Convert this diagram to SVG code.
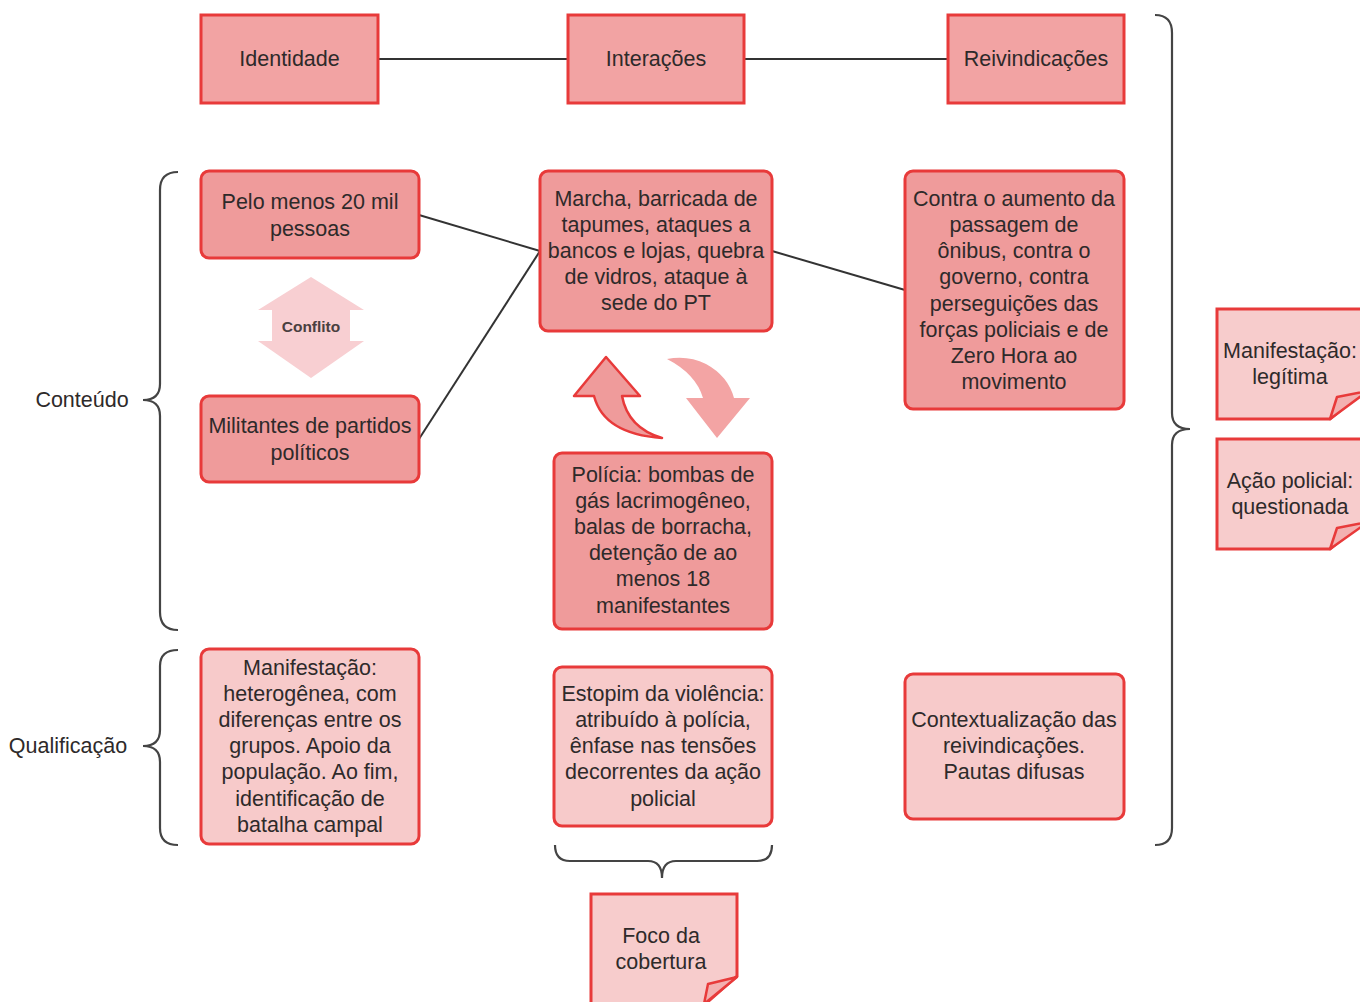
<svg xmlns="http://www.w3.org/2000/svg" width="1360" height="1002" viewBox="0 0 1360 1002">
<defs>
<style>
text{font-family:"Liberation Sans",Arial,sans-serif;font-size:21.5px;fill:#2e2a2a;text-anchor:middle}
.hdr{fill:#f2a3a3;stroke:#e83a3a;stroke-width:3}
.dk{fill:#ef9b9b;stroke:#e83a3a;stroke-width:3}
.lt{fill:#f7caca;stroke:#e83a3a;stroke-width:3}
.note{fill:#f7cccc;stroke:#e83a3a;stroke-width:3;stroke-linejoin:miter}
.flap{fill:#f3b0b0;stroke:#e83a3a;stroke-width:2.5;stroke-linejoin:round}
.conn{stroke:#333;stroke-width:2;fill:none}
.brace{stroke:#444;stroke-width:2.2;fill:none}
.lbl{text-anchor:middle}
</style>
</defs>
<rect width="1360" height="1002" fill="#ffffff"/>

<g id="connectors">
<line class="conn" x1="378" y1="59" x2="568" y2="59"/>
<line class="conn" x1="744" y1="59" x2="948" y2="59"/>
<line class="conn" x1="419" y1="215" x2="540" y2="251"/>
<line class="conn" x1="419" y1="439" x2="540" y2="251"/>
<line class="conn" x1="772" y1="251" x2="905" y2="290"/>
</g>

<g id="braces">
<path class="brace" d="M178,172 Q160,172 160,190 V384 Q160,400 143,400 Q160,400 160,416 V612 Q160,630 178,630"/>
<path class="brace" d="M178,650 Q160,650 160,666 V730 Q160,746 143,746 Q160,746 160,762 V828 Q160,845 178,845"/>
<path class="brace" d="M1155,15 Q1172,15 1172,33 V413 Q1172,429 1190,429 Q1172,429 1172,445 V828 Q1172,845 1155,845"/>
<path class="brace" d="M555,845 Q555,861 570,861 H648 Q662,861 662,878 Q662,861 676,861 H757 Q772,861 772,845"/>
</g>

<g id="label-conteudo"><text x="82" y="407">Conteúdo</text></g>
<g id="label-qualificacao"><text x="68" y="753">Qualificação</text></g>

<g id="identidade">
<rect class="hdr" x="201" y="15" width="177" height="88"/>
<text x="289.5" y="66">Identidade</text>
</g>
<g id="interacoes">
<rect class="hdr" x="568" y="15" width="176" height="88"/>
<text x="656" y="66">Interações</text>
</g>
<g id="reivindicacoes">
<rect class="hdr" x="948" y="15" width="176" height="88"/>
<text x="1036" y="66">Reivindicações</text>
</g>

<g id="pelo-menos">
<rect class="dk" x="201" y="171" width="218" height="87" rx="8"/>
<text x="310" y="209">Pelo menos 20 mil</text>
<text x="310" y="236">pessoas</text>
</g>

<g id="conflito">
<path d="M311,277 L364,310 L350,310 L350,341 L364,341 L311,378 L258,341 L272,341 L272,310 L258,310 Z" fill="#f8cfd2"/>
<text x="311" y="332" style="font-size:15.5px;font-weight:bold;fill:#4a4040">Conflito</text>
</g>

<g id="militantes">
<rect class="dk" x="201" y="396" width="218" height="86" rx="8"/>
<text x="310" y="433">Militantes de partidos</text>
<text x="310" y="460">políticos</text>
</g>

<g id="marcha">
<rect class="dk" x="540" y="171" width="232" height="160" rx="8"/>
<text x="656" y="206">Marcha, barricada de</text>
<text x="656" y="232">tapumes, ataques a</text>
<text x="656" y="258">bancos e lojas, quebra</text>
<text x="656" y="284">de vidros, ataque à</text>
<text x="656" y="310">sede do PT</text>
</g>

<g id="contra">
<rect class="dk" x="905" y="171" width="219" height="238" rx="8"/>
<text x="1014" y="206">Contra o aumento da</text>
<text x="1014" y="232">passagem de</text>
<text x="1014" y="258">ônibus, contra o</text>
<text x="1014" y="284">governo, contra</text>
<text x="1014" y="311">perseguições das</text>
<text x="1014" y="337">forças policiais e de</text>
<text x="1014" y="363">Zero Hora ao</text>
<text x="1014" y="389">movimento</text>
</g>

<g id="ciclo">
<path d="M606,357 L640,396 L622,396 Q628,428 662,438 Q604,434 594,396 L574,396 Z" fill="#ef9b9b" stroke="#e83a3a" stroke-width="2.5" stroke-linejoin="round"/>
<path d="M667,359 Q688,355 706,364 Q728,376 734,398 L750,398 L717,438 L686,398 L703,398 Q696,374 667,359 Z" fill="#f3a4a4"/>
</g>

<g id="policia">
<rect class="dk" x="554" y="453" width="218" height="176" rx="8"/>
<text x="663" y="482">Polícia: bombas de</text>
<text x="663" y="508">gás lacrimogêneo,</text>
<text x="663" y="534">balas de borracha,</text>
<text x="663" y="560">detenção de ao</text>
<text x="663" y="586">menos 18</text>
<text x="663" y="613">manifestantes</text>
</g>

<g id="manifestacao-heterogenea">
<rect class="lt" x="201" y="649" width="218" height="195" rx="8"/>
<text x="310" y="675">Manifestação:</text>
<text x="310" y="701">heterogênea, com</text>
<text x="310" y="727">diferenças entre os</text>
<text x="310" y="753">grupos. Apoio da</text>
<text x="310" y="779">população. Ao fim,</text>
<text x="310" y="806">identificação de</text>
<text x="310" y="832">batalha campal</text>
</g>

<g id="estopim">
<rect class="lt" x="554" y="667" width="218" height="159" rx="8"/>
<text x="663" y="701">Estopim da violência:</text>
<text x="663" y="727">atribuído à polícia,</text>
<text x="663" y="753">ênfase nas tensões</text>
<text x="663" y="779">decorrentes da ação</text>
<text x="663" y="806">policial</text>
</g>

<g id="contextualizacao">
<rect class="lt" x="905" y="674" width="219" height="145" rx="8"/>
<text x="1014" y="727">Contextualização das</text>
<text x="1014" y="753">reivindicações.</text>
<text x="1014" y="779">Pautas difusas</text>
</g>

<g id="nota-legitima">
<path class="note" d="M1217,309 H1368 V388 L1330,419 H1217 Z"/>
<path class="flap" d="M1330,419 L1337,397 L1368,391 Z"/>
<text x="1290" y="358">Manifestação:</text>
<text x="1290" y="384">legítima</text>
</g>

<g id="nota-acao-policial">
<path class="note" d="M1217,439 H1368 V518 L1330,549 H1217 Z"/>
<path class="flap" d="M1330,549 L1337,528 L1368,522 Z"/>
<text x="1290" y="488">Ação policial:</text>
<text x="1290" y="514">questionada</text>
</g>

<g id="nota-foco">
<path class="note" d="M591,894 H737 V976 L703,1006 H591 Z"/>
<path class="flap" d="M704,1004 L708,984 L737,977 Z"/>
<text x="661" y="943">Foco da</text>
<text x="661" y="969">cobertura</text>
</g>
</svg>
